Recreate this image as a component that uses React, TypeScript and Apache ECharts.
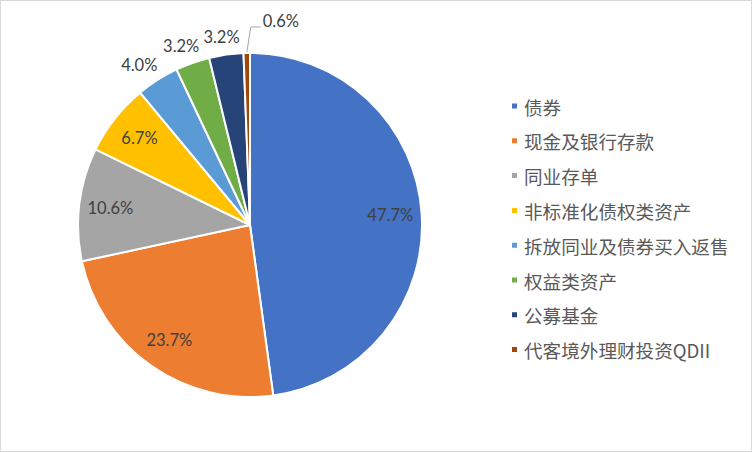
import { useEffect, useRef } from "react";
import * as echarts from "echarts";

const categories = [
  "债券",
  "现金及银行存款",
  "同业存单",
  "非标准化债权类资产",
  "拆放同业及债券买入返售",
  "权益类资产",
  "公募基金",
  "代客境外理财投资QDII",
];
const shares = [47.7, 23.7, 10.6, 6.7, 4.0, 3.2, 3.2, 0.6];
const colors = [
  "#4472C4",
  "#ED7D31",
  "#A5A5A5",
  "#FFC000",
  "#5B9BD5",
  "#70AD47",
  "#264478",
  "#9E480E",
];
// slices whose label sits inside the pie
const insideCount = 4;

const CENTER = [249, 224];
const RADIUS = 172;

const labelText = (p: any) => `${Number(p.value).toFixed(1)}%`;

export default function App() {
  const ref = useRef<HTMLDivElement | null>(null);

  useEffect(() => {
    if (!ref.current) return;
    const chart = echarts.init(ref.current, undefined, { renderer: "svg" });

    const labelStyle = {
      color: "#404040",
      fontFamily: "Lato, 'Liberation Sans', sans-serif",
      fontSize: 16.5,
    };

    chart.setOption({
      animation: false,
      backgroundColor: "#fff",
      legend: {
        orient: "vertical",
        left: 509,
        top: 95,
        padding: 0,
        icon: "rect",
        itemWidth: 7,
        itemHeight: 7,
        itemGap: 14.8,
        selectedMode: false,
        data: categories,
        textStyle: {
          color: "#595959",
          fontFamily: "'Noto Sans CJK SC', sans-serif",
          fontSize: 18.6,
          lineHeight: 20,
          padding: [0, 0, 0, 1],
        },
      },
      series: [
        {
          type: "pie",
          center: CENTER,
          radius: RADIUS,
          startAngle: 90,
          clockwise: true,
          avoidLabelOverlap: false,
          emphasis: { disabled: true },
          itemStyle: { borderColor: "#fff", borderWidth: 2 },
          label: { ...labelStyle, position: "outside", formatter: labelText },
          labelLine: {
            length: 22,
            length2: 0,
            lineStyle: { color: "#a6a6a6", width: 1 },
          },
          labelLayout: (p: any) => {
            const pts = p.labelLinePoints;
            if (!pts) return {};
            const [x0, y0] = pts[0];
            if (p.dataIndex === categories.length - 1) {
              const bx = x0 + 4;
              const by = y0 - 26;
              return {
                x: bx + 12,
                y: by - 6,
                align: "left",
                verticalAlign: "middle",
                labelLinePoints: [
                  [x0, y0],
                  [bx, by],
                  [bx + 10, by],
                ],
              };
            }
            const vx = pts[1][0] - x0;
            const vy = pts[1][1] - y0;
            const len = Math.hypot(vx, vy) || 1;
            const ux = vx / len;
            const uy = vy / len;
            const w = p.labelRect ? p.labelRect.width : 36;
            return {
              x: x0 + ux * 16 + (ux * w) / 2,
              y: y0 + uy * 16 + uy * 1.5,
              align: "center",
              verticalAlign: "middle",
            };
          },
          data: categories.map((name, i) => ({
            name,
            value: shares[i],
            itemStyle: { color: colors[i] },
            label: { show: i >= insideCount },
            labelLine: {
              show: i >= insideCount,
              lineStyle: { opacity: i === categories.length - 1 ? 1 : 0 },
            },
          })),
        },
        {
          type: "pie",
          center: CENTER,
          radius: [0, RADIUS * 1.6],
          startAngle: 90,
          clockwise: true,
          silent: true,
          z: 3,
          avoidLabelOverlap: false,
          emphasis: { disabled: true },
          itemStyle: { color: "rgba(0,0,0,0)", borderWidth: 0 },
          label: { ...labelStyle, position: "inside", formatter: labelText },
          labelLine: { show: false },
          data: categories.map((name, i) => ({
            name,
            value: shares[i],
            itemStyle: { color: "rgba(0,0,0,0)" },
            label: { show: i < insideCount },
          })),
        },
      ],
    });

    return () => chart.dispose();
  }, []);

  return (
    <div
      ref={ref}
      style={{
        position: "fixed",
        left: 0,
        top: 0,
        width: 752,
        height: 452,
        boxSizing: "border-box",
        border: "1px solid #d9d9d9",
        background: "#fff",
      }}
    />
  );
}
